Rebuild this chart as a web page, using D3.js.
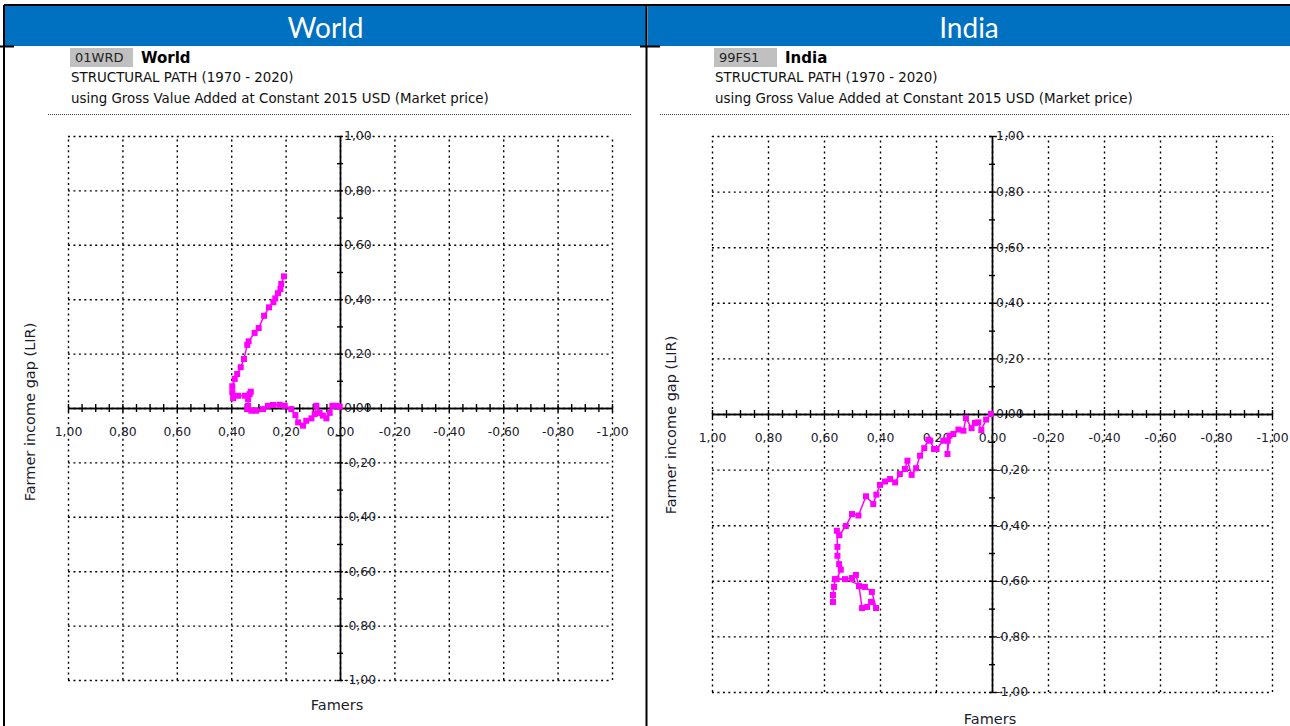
<!DOCTYPE html>
<html>
<head>
<meta charset="utf-8">
<script src="https://cdn.jsdelivr.net/npm/d3@7"></script>
<style>
  body { margin: 0; background: #fff; }
  svg { display: block; }
  .grid line { stroke: #000; stroke-width: 1.4; stroke-dasharray: 2,3.44; }
  .grid path { display: none; }
  .zero path, .zero line { stroke: #000; stroke-width: 1.4; }
  .lbl path { display: none; }
  .lbl text { font-family: "DejaVu Sans", sans-serif; font-size: 12.4px; fill: #1c1c2c; }
</style>
</head>
<body>
<div id="svg-container"></div>
<script>
// tick values shared by both axes
var tickValues = [1, 0.8, 0.6, 0.4, 0.2, 0, -0.2, -0.4, -0.6, -0.8, -1];

// World path: share of farmers (x) and farmer income gap (y)
var worldFarmers = [0.206, 0.216, 0.219, 0.228, 0.238, 0.245, 0.261, 0.279, 0.299, 0.314,
  0.336, 0.341, 0.353, 0.365, 0.378, 0.387, 0.396, 0.396, 0.393, 0.375,
  0.350, 0.332, 0.328, 0.338, 0.338, 0.341, 0.326, 0.308, 0.283, 0.265,
  0.246, 0.222, 0.203, 0.179, 0.164, 0.154, 0.136, 0.124, 0.105, 0.093,
  0.087, 0.075, 0.063, 0.050, 0.038, 0.028, 0.014, 0.001];
var worldGap = [0.484, 0.456, 0.437, 0.422, 0.403, 0.389, 0.370, 0.339, 0.294, 0.276,
  0.245, 0.232, 0.180, 0.150, 0.125, 0.107, 0.080, 0.058, 0.036, 0.045,
  0.045, 0.051, 0.060, 0.033, 0.008, -0.004, -0.010, -0.010, -0.004, 0.008,
  0.011, 0.012, 0.008, -0.004, -0.026, -0.053, -0.065, -0.047, -0.038, -0.022,
  0.008, -0.018, -0.028, -0.038, -0.018, 0.008, 0.008, 0.005];

// India path
var indiaFarmers = [0.004, 0.021, 0.038, 0.049, 0.061, 0.073, 0.093, 0.102, 0.120, 0.138,
  0.152, 0.159, 0.158, 0.174, 0.198, 0.207, 0.221, 0.227, 0.242, 0.257,
  0.271, 0.287, 0.302, 0.311, 0.329, 0.346, 0.364, 0.382, 0.400, 0.413,
  0.424, 0.450, 0.477, 0.500, 0.522, 0.545, 0.554, 0.552, 0.552, 0.546,
  0.540, 0.555, 0.500, 0.486, 0.475, 0.464, 0.446, 0.432, 0.414, 0.429,
  0.454, 0.525, 0.561, 0.564, 0.568, 0.568];
var indiaGap = [0.000, -0.020, -0.058, -0.030, -0.032, -0.051, -0.015, -0.060, -0.056, -0.072,
  -0.078, -0.144, -0.096, -0.096, -0.126, -0.126, -0.096, -0.092, -0.123, -0.150,
  -0.195, -0.219, -0.168, -0.198, -0.216, -0.246, -0.234, -0.243, -0.255, -0.290,
  -0.324, -0.296, -0.365, -0.360, -0.403, -0.436, -0.420, -0.478, -0.510, -0.540,
  -0.560, -0.594, -0.590, -0.579, -0.619, -0.698, -0.694, -0.676, -0.698, -0.640,
  -0.622, -0.594, -0.594, -0.622, -0.651, -0.676];

// texts
var panelTitles = ["World", "India"];
var panelCodes = ["01WRD", "99FS1"];
var subtitle1 = "STRUCTURAL PATH (1970 - 2020)";
var subtitle2 = "using Gross Value Added at Constant 2015 USD (Market price)";
var xTitle = "Famers";
var yTitle = "Farmer income gap (LIR)";

// decimal comma, plain hyphen minus
var fmt = d3.formatLocale({ decimal: ",", thousands: ".", grouping: [3], currency: ["", ""], minus: "-" }).format(".2f");

var svg = d3.select("#svg-container").append("svg")
    .attr("width", 1290)
    .attr("height", 726);

// panel layouts
var panels = [
  { left: 5, right: 646, codeX: 70, textX: 71, sep: [48, 632],
    xRange: [68, 612], yRange: [136, 680], yTitlePos: [35, 412], xTitlePos: [337, 710],
    farmers: worldFarmers, gap: worldGap },
  { left: 648, right: 1290, codeX: 714, textX: 715, sep: [660, 1290],
    xRange: [712, 1272], yRange: [136, 692], yTitlePos: [676, 425], xTitlePos: [990, 724],
    farmers: indiaFarmers, gap: indiaGap }
];

panels.forEach(function(p, i) {
  var g = svg.append("g");

  // blue header
  g.append("rect")
    .attr("x", p.left).attr("y", 6)
    .attr("width", p.right - p.left).attr("height", 40)
    .attr("fill", "#0070c0");

  g.append("text")
    .attr("x", (p.left + p.right) / 2).attr("y", 38)
    .attr("text-anchor", "middle")
    .attr("font-family", "Lato, sans-serif")
    .attr("font-size", 28)
    .attr("fill", "#fff")
    .text(panelTitles[i]);

  // code box + name
  g.append("rect")
    .attr("x", p.codeX).attr("y", 48)
    .attr("width", 63).attr("height", 19)
    .attr("fill", "#c0c0c0");

  g.append("text")
    .attr("x", p.codeX + 5).attr("y", 62)
    .attr("font-family", "DejaVu Sans, sans-serif")
    .attr("font-size", 13)
    .attr("fill", "#222")
    .text(panelCodes[i]);

  g.append("text")
    .attr("x", p.codeX + 71).attr("y", 63)
    .attr("font-family", "DejaVu Sans, sans-serif")
    .attr("font-size", 15)
    .attr("font-weight", "bold")
    .attr("fill", "#000")
    .text(panelTitles[i]);

  g.append("text")
    .attr("x", p.textX).attr("y", 82)
    .attr("font-family", "DejaVu Sans, sans-serif")
    .attr("font-size", 13.4)
    .attr("fill", "#111")
    .text(subtitle1);

  g.append("text")
    .attr("x", p.textX).attr("y", 103)
    .attr("font-family", "DejaVu Sans, sans-serif")
    .attr("font-size", 13.4)
    .attr("fill", "#111")
    .text(subtitle2);

  // dotted separator
  g.append("line")
    .attr("x1", p.sep[0]).attr("x2", p.sep[1])
    .attr("y1", 114.5).attr("y2", 114.5)
    .attr("stroke", "#444")
    .attr("stroke-dasharray", "1,1");

  // scales
  var x = d3.scaleLinear().domain([1, -1]).range(p.xRange);
  var y = d3.scaleLinear().domain([1, -1]).range(p.yRange);
  var plotW = p.xRange[1] - p.xRange[0];
  var plotH = p.yRange[1] - p.yRange[0];

  // dotted grid
  g.append("g")
    .attr("class", "grid")
    .attr("transform", "translate(0," + p.yRange[1] + ")")
    .call(d3.axisBottom(x).tickValues(tickValues).tickSize(-plotH).tickFormat(""));

  g.append("g")
    .attr("class", "grid")
    .attr("transform", "translate(" + p.xRange[0] + ",0)")
    .call(d3.axisLeft(y).tickValues(tickValues).tickSize(-plotW).tickFormat(""));

  // zero axes with small ticks on both sides
  var xMinor = d3.range(-20, 21).map(function(k) { return k * 0.05; });
  var yMinor = d3.range(-10, 11).map(function(k) { return k * 0.1; });

  [d3.axisTop, d3.axisBottom].forEach(function(ax) {
    g.append("g")
      .attr("class", "zero")
      .attr("transform", "translate(0," + y(0) + ")")
      .call(ax(x).tickValues(xMinor).tickSize(4).tickSizeOuter(0).tickFormat(""));
  });

  [d3.axisLeft, d3.axisRight].forEach(function(ax) {
    g.append("g")
      .attr("class", "zero")
      .attr("transform", "translate(" + x(0) + ",0)")
      .call(ax(y).tickValues(yMinor).tickSize(3).tickSizeOuter(0).tickFormat(""));
  });

  // tick labels
  g.append("g")
    .attr("class", "lbl")
    .attr("transform", "translate(0," + y(0) + ")")
    .call(d3.axisBottom(x).tickValues(tickValues).tickSize(0).tickPadding(19).tickFormat(fmt));

  g.append("g")
    .attr("class", "lbl")
    .attr("transform", "translate(" + x(0) + ",0)")
    .call(d3.axisRight(y).tickValues(tickValues).tickSize(0).tickPadding(4).tickFormat(fmt));

  // axis titles
  g.append("text")
    .attr("transform", "translate(" + p.yTitlePos[0] + "," + p.yTitlePos[1] + ") rotate(-90)")
    .attr("text-anchor", "middle")
    .attr("font-family", "DejaVu Sans, sans-serif")
    .attr("font-size", 14.5)
    .attr("fill", "#1c1c2c")
    .text(yTitle);

  g.append("text")
    .attr("x", p.xTitlePos[0]).attr("y", p.xTitlePos[1])
    .attr("text-anchor", "middle")
    .attr("font-family", "DejaVu Sans, sans-serif")
    .attr("font-size", 14.5)
    .attr("fill", "#1c1c2c")
    .text(xTitle);

  // structural path
  var pts = p.farmers.map(function(v, k) { return [v, p.gap[k]]; });

  g.append("path")
    .datum(pts)
    .attr("fill", "none")
    .attr("stroke", "#ff00ff")
    .attr("stroke-width", 1.5)
    .attr("d", d3.line()
      .x(function(d) { return x(d[0]); })
      .y(function(d) { return y(d[1]); }));

  g.selectAll(".pt")
    .data(pts)
    .enter()
    .append("rect")
      .attr("class", "pt")
      .attr("x", function(d) { return x(d[0]) - 3; })
      .attr("y", function(d) { return y(d[1]) - 3; })
      .attr("width", 6)
      .attr("height", 6)
      .attr("fill", "#ff00ff");
});

// table borders
var borders = [
  [4, 5, 1290, 5], [4, 5, 4, 726], [646.5, 5, 646.5, 726],
  [0, 46.5, 14, 46.5], [640, 46.5, 660, 46.5]
];
svg.selectAll(".border")
  .data(borders)
  .enter()
  .append("line")
    .attr("class", "border")
    .attr("x1", function(d) { return d[0]; })
    .attr("y1", function(d) { return d[1]; })
    .attr("x2", function(d) { return d[2]; })
    .attr("y2", function(d) { return d[3]; })
    .attr("stroke", "#000")
    .attr("stroke-width", 2);
</script>
</body>
</html>
